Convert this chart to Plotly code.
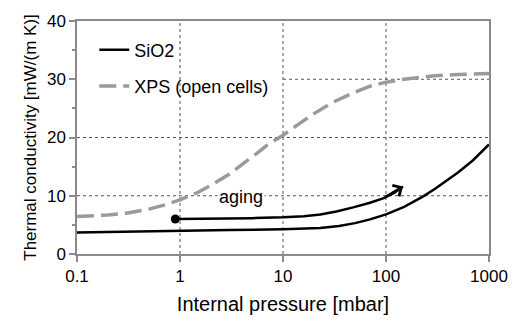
import math
import plotly.graph_objects as go

# ---- data ----
sio2_p = [0.1, 0.3, 1, 3, 10, 23, 35, 50, 70, 100, 150, 230, 300, 400, 500, 700, 1000]
sio2_k = [3.7, 3.8, 3.95, 4.1, 4.25, 4.45, 4.8, 5.3, 5.95, 6.8, 8.1, 9.9, 11.2, 12.7, 14.0, 16.1, 18.8]

xps_p = [0.1, 0.2, 0.3, 0.5, 0.7, 1, 1.5, 2, 3, 4, 5.5, 7, 10, 15, 20, 30, 50, 70, 100, 150, 200, 300, 500, 1000]
xps_k = [6.45, 6.7, 7.0, 7.7, 8.4, 9.3, 10.6, 11.8, 13.7, 15.3, 17.2, 18.7, 20.4, 22.6, 24.1, 26.0, 27.8, 28.8, 29.5, 30.0, 30.3, 30.6, 30.8, 31.0]

aging_p = [0.9, 2, 5, 10, 16, 23, 33, 48, 70, 95, 120, 146]
aging_k = [6.0, 6.05, 6.15, 6.3, 6.5, 6.8, 7.3, 8.0, 8.8, 9.6, 10.5, 11.6]

x_ticks = [0.1, 1, 10, 100, 1000]
x_ticklabels = ["0.1", "1", "10", "100", "1000"]
y_ticks = [0, 10, 20, 30, 40]
grid_x = [1, 10, 100]
grid_y = [10, 20, 30]
grid_y_start = [0.1, 0.1, 10]

FONT = "Liberation Sans, Arial, sans-serif"
AXC = "#8a8a8a"
GRIDC = "#555555"

fig = go.Figure()
fig.add_trace(go.Scatter(x=sio2_p, y=sio2_k, mode="lines", name="SiO2",
                         line=dict(color="black", width=2.5),
                         legendgroup="a"))
fig.add_trace(go.Scatter(x=xps_p, y=xps_k, mode="lines", name="XPS (open cells)",
                         line=dict(color="#9a9a9a", width=3.5, dash="17px,7px"),
                         legendgroup="b"))
fig.add_trace(go.Scatter(x=aging_p, y=aging_k, mode="lines", showlegend=False,
                         line=dict(color="black", width=2.5)))
fig.add_trace(go.Scatter(x=aging_p[:1], y=aging_k[:1], mode="markers", showlegend=False,
                         marker=dict(color="black", size=9)))

shapes = []
for gx in grid_x:
    shapes.append(dict(type="line", xref="x", yref="y", x0=gx, x1=gx, y0=0, y1=40,
                       line=dict(color=GRIDC, width=1, dash="3px,3px"), layer="below"))
for gy, gs in zip(grid_y, grid_y_start):
    shapes.append(dict(type="line", xref="x", yref="y", x0=gs, x1=1000, y0=gy, y1=gy,
                       line=dict(color=GRIDC, width=1, dash="3px,3px"), layer="below"))

annotations = [
    dict(x=math.log10(aging_p[-1]), y=aging_k[-1], xref="x", yref="y",
         ax=math.log10(aging_p[-3]), ay=aging_k[-3], axref="x", ayref="y",
         showarrow=True, arrowhead=4, arrowsize=1, arrowwidth=2.5, arrowcolor="black", text=""),
    dict(x=math.log10(3.95), y=9.8, xref="x", yref="y", text="aging", showarrow=False,
         bgcolor="white", font=dict(size=18, color="black", family=FONT)),
]

fig.update_layout(
    width=520, height=324,
    margin=dict(l=77, r=22, t=17, b=61),
    paper_bgcolor="white", plot_bgcolor="white",
    font=dict(family=FONT, color="black", size=17),
    shapes=shapes, annotations=annotations,
    legend=dict(x=0.042, y=0.955, xanchor="left", yanchor="top",
                font=dict(size=18, family=FONT), bgcolor="rgba(255,255,255,0)",
                tracegroupgap=10, traceorder="grouped"),
    xaxis=dict(type="log", range=[-1, 3], tickvals=x_ticks, ticktext=x_ticklabels,
               showgrid=False, zeroline=False, showline=True, linecolor=AXC, linewidth=1.5,
               mirror=True, ticks="outside", ticklen=6, tickcolor=AXC, tickwidth=1.5,
               tickfont=dict(size=17),
               title=dict(text="Internal pressure [mbar]", font=dict(size=20), standoff=12)),
    yaxis=dict(range=[0, 40], tickvals=y_ticks, showgrid=False, zeroline=False,
               showline=True, linecolor=AXC, linewidth=1.5, mirror=True,
               ticks="outside", ticklen=6, tickcolor=AXC, tickwidth=1.5,
               minor=dict(ticks="outside", ticklen=3, dtick=5, tick0=5, tickcolor=AXC, showgrid=False),
               tickfont=dict(size=17),
               title=dict(text="Thermal conductivity [mW/(m K)]", font=dict(size=17), standoff=6)),
)

fig.write_html("out.html")
